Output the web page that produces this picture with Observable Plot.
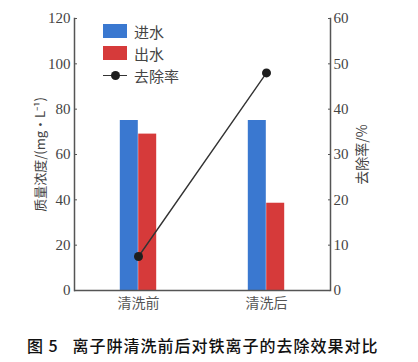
<!DOCTYPE html>
<html>
<head>
<meta charset="utf-8">
<script src="https://cdn.jsdelivr.net/npm/d3@7"></script>
<script src="https://cdn.jsdelivr.net/npm/@observablehq/plot@0.6"></script>
<style>
  body { margin: 0; background: #fff; }
  #wrap { position: relative; width: 418px; height: 362px; }
  #legend { position: absolute; left: 103px; top: 20px; font: 15px "Noto Sans CJK SC", sans-serif; color: #444; }
  .row { display: flex; align-items: center; height: 22px; }
  .sw { width: 24px; height: 14px; margin-right: 7px; }
  .ln { width: 24px; height: 14px; margin-right: 7px; position: relative; }
  .ln::before { content: ""; position: absolute; left: 0; right: 0; top: 7px; border-top: 1.4px solid #333; }
  .ln::after { content: ""; position: absolute; left: 8px; top: 3px; width: 9px; height: 9px; border-radius: 50%; background: #1e1e1e; }
  #caption { position: absolute; left: 27px; top: 333px; font: 500 16px "Noto Sans CJK SC", sans-serif; letter-spacing: 1px; color: #111; white-space: pre; }
</style>
</head>
<body>
<div id="wrap">
  <div id="chart"></div>
  <div id="legend"></div>
  <div id="caption"></div>
</div>
<script>
const categories = ["清洗前", "清洗后"];
const inflow = [75, 75];
const outflow = [69, 38.5];
const removalRate = [7.5, 48];
const leftTicks = [0, 20, 40, 60, 80, 100, 120];
const rightTicks = [0, 10, 20, 30, 40, 50, 60];
const seriesNames = ["进水", "出水", "去除率"];
const colors = ["#3a78d0", "#d63a3a", "#1e1e1e"];
const yLabel = "质量浓度/(mg·L⁻¹)";
const y2Label = "去除率/%";
const captionText = "图 5   离子阱清洗前后对铁离子的去除效果对比";

const rows = categories.map((c, i) => ({cat: c, inflow: inflow[i], outflow: outflow[i], rate: removalRate[i]}));
const ratio = 120 / 60;

const bw = 18.4;
const axisColor = "#555";
const serifStack = "'Liberation Serif', 'Times New Roman', Tinos, 'DejaVu Serif', serif";

const chart = Plot.plot({
  width: 418,
  height: 325,
  marginTop: 18,
  marginBottom: 35,
  marginLeft: 74,
  marginRight: 88,
  style: {fontSize: "14px", color: "#444", background: "#fff", fontFamily: "'Noto Sans CJK SC', sans-serif"},
  x: {domain: categories, type: "band", paddingInner: 0.856, paddingOuter: 0.428},
  y: {domain: [0, 120]},
  marks: [
    Plot.barY(rows, {x: "cat", y: "inflow", fill: colors[0], dx: -bw / 2}),
    Plot.barY(rows, {x: "cat", y: "outflow", fill: colors[1], dx: bw / 2}),
    Plot.line(rows, {x: "cat", y: d => d.rate * ratio, stroke: "#333", strokeWidth: 1.4}),
    Plot.dot(rows, {x: "cat", y: d => d.rate * ratio, r: 4.5, fill: colors[2]}),
    Plot.ruleY([0], {stroke: axisColor, strokeWidth: 1.5}),
    Plot.frame({anchor: "left", stroke: axisColor, strokeWidth: 1.5}),
    Plot.frame({anchor: "right", stroke: axisColor, strokeWidth: 1.5}),
    Plot.axisY({anchor: "left", ticks: leftTicks, tickSize: -3, tickPadding: 7, stroke: axisColor,
      fill: "#444", label: yLabel, labelAnchor: "center", labelArrow: "none", labelOffset: 39,
      fontSize: 14}),
    Plot.axisY({anchor: "right", ticks: rightTicks.map(d => d * ratio), tickFormat: d => d / ratio,
      tickSize: -3, tickPadding: 6, stroke: axisColor, fill: "#444", label: y2Label,
      labelAnchor: "center", labelArrow: "none", labelOffset: 36, fontSize: 14}),
    Plot.axisX({anchor: "bottom", tickSize: 0, tickPadding: 8, fill: "#555", label: null,
      fontSize: 14})
  ]
});
document.getElementById("chart").appendChild(chart);

chart.querySelectorAll("text").forEach(t => {
  if (/^\s*\d+\s*$/.test(t.textContent)) {
    t.style.setProperty("font-family", serifStack, "important");
    t.style.setProperty("font-size", "15px", "important");
  }
  if (t.textContent === yLabel) t.style.fontSize = "13px";
});

const legend = document.getElementById("legend");
seriesNames.forEach((name, i) => {
  const row = document.createElement("div");
  row.className = "row";
  const sw = document.createElement("div");
  if (i < 2) { sw.className = "sw"; sw.style.background = colors[i]; }
  else sw.className = "ln";
  row.appendChild(sw);
  const t = document.createElement("span");
  t.textContent = name;
  row.appendChild(t);
  legend.appendChild(row);
});
document.getElementById("caption").textContent = captionText;
</script>
</body>
</html>
